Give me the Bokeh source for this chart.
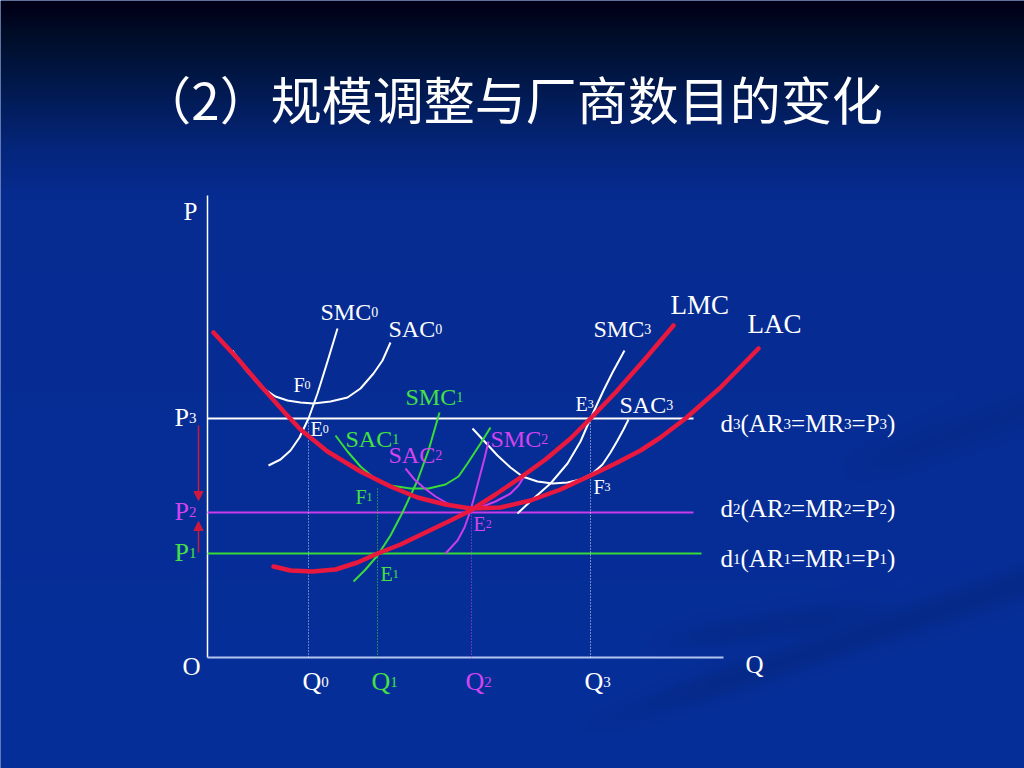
import numpy as np
from bokeh.plotting import figure
from bokeh.models import Range1d, Arrow, NormalHead
from bokeh.core.properties import value
from bokeh.embed import file_html
from bokeh.resources import INLINE

# ---------------- data (Q = quantity, P = price) ----------------
TITLE = "（2）规模调整与厂商数目的变化"

LAC_Q = [0.6, 3.0, 5.3, 7.8, 9.3, 12.0, 15.3, 18.3, 21.0, 23.8, 26.3, 29.3, 32.3, 35.3, 38.3, 40.8, 43.3, 45.3, 47.8, 51.3, 55.1]
LAC_P = [32.5, 29.9, 27.2, 24.4, 22.8, 20.6, 18.6, 17.1, 16.0, 15.3, 14.9, 15.0, 15.7, 16.8, 18.2, 19.4, 20.7, 22.0, 23.9, 27.0, 30.9]

LMC_Q = [6.6, 8.3, 10.5, 12.8, 15.0, 17.0, 19.3, 21.8, 24.3, 26.3, 28.8, 31.3, 33.8, 36.3, 38.3, 40.8, 43.8, 46.6]
LMC_P = [9.1, 8.7, 8.6, 8.8, 9.5, 10.4, 11.3, 12.5, 13.7, 14.7, 16.3, 18.0, 19.8, 21.9, 23.9, 26.5, 29.9, 33.2]

SAC0_Q = [2.5, 3.8, 5.3, 6.8, 8.0, 9.3, 10.6, 12.3, 14.0, 15.3, 16.6, 17.5, 18.3]
SAC0_P = [30.7, 28.8, 27.1, 26.1, 25.7, 25.5, 25.4, 25.6, 26.0, 26.9, 28.4, 29.7, 31.5]
SMC0_Q = [6.1, 7.3, 8.3, 9.2, 10.1, 11.0, 12.0, 13.0]
SMC0_P = [19.2, 19.8, 20.7, 22.0, 23.9, 26.4, 29.6, 32.9]

SAC1_Q = [12.8, 14.0, 15.3, 16.6, 18.3, 20.3, 22.1, 23.8, 25.1, 26.0, 27.3, 28.3]
SAC1_P = [22.2, 20.6, 19.1, 18.0, 17.2, 16.9, 16.9, 17.3, 18.1, 19.4, 21.4, 23.0]
SMC1_Q = [14.6, 15.8, 17.0, 18.3, 19.5, 21.0, 22.1, 23.2]
SMC1_P = [7.6, 8.8, 10.2, 12.2, 14.5, 17.7, 20.7, 24.5]

SAC2_Q = [19.8, 20.7, 21.6, 22.8, 24.0, 25.1, 26.3, 27.5, 28.8, 30.3, 31.1, 31.6]
SAC2_P = [18.9, 17.8, 17.0, 16.1, 15.4, 15.0, 14.9, 15.1, 15.6, 16.4, 17.2, 18.0]
SMC2_Q = [23.8, 25.0, 25.7, 26.3, 26.8, 27.3, 27.7, 28.1]
SMC2_P = [10.4, 11.7, 13.0, 14.7, 16.5, 18.4, 19.9, 21.6]

SAC3_Q = [26.5, 27.8, 29.0, 30.3, 31.5, 33.0, 34.5, 36.0, 37.3, 38.5, 39.5, 40.3, 41.0, 41.6, 42.1]
SAC3_P = [22.9, 21.5, 20.2, 19.0, 18.1, 17.6, 17.4, 17.5, 17.8, 18.4, 19.3, 20.5, 21.7, 22.8, 23.8]
SMC3_Q = [31.0, 32.6, 34.3, 36.0, 37.3, 38.3, 39.6, 40.5, 41.7]
SMC3_P = [14.4, 15.9, 17.4, 19.4, 21.6, 23.9, 26.7, 28.5, 30.7]

# price levels P3, P2, P1 and where their demand lines end
PRICE_LEVELS = [23.9, 14.5, 10.4]
PRICE_LINE_END = [48.6, 48.6, 49.4]
# quantities Q0..Q3 and the height of their dotted guides
Q_LEVELS = [10.1, 17.0, 26.4, 38.3]
Q_GUIDE_TOP = [23.9, 17.0, 14.5, 23.9]
Q_LABELS = ["Q_0", "Q_1", "Q_2", "Q_3"]
AXIS_P_MAX = 46.2
AXIS_Q_MAX = 51.6
D_LABELS = ["d_3(AR_3=MR_3=P_3)", "d_2(AR_2=MR_2=P_2)", "d_1(AR_1=MR_1=P_1)"]
P_LABELS = ["P_3", "P_2", "P_1"]

# ---------------- styling ----------------
RED = "#e8183e"
ARROW_RED = "#d0183c"
GREEN = "#38dc38"
GREEN_T = "#44e044"
MAG = "#c83cec"
MAG_T = "#d244f0"
WHITE = "#ffffff"
AXIS_Q_COLOR = "#b4c4f0"
SERIF = "Liberation Serif"

W, H = 1024, 768
PXU = 10.0               # pixels per data unit
OX, OY = 207, 657        # page position of origin O
x_lo, x_hi = (0 - OX) / PXU, (W - OX) / PXU
y_lo, y_hi = (OY - H) / PXU, (OY - 0) / PXU
TEXT_LIFT = 0.9          # baseline correction (data units)

p = figure(width=W, height=H, x_range=Range1d(x_lo, x_hi), y_range=Range1d(y_lo, y_hi),
           output_backend="svg", toolbar_location=None, min_border=0,
           x_axis_location=None, y_axis_location=None, outline_line_color=None,
           background_fill_color="#072c94", border_fill_color="#072c94")
p.xgrid.grid_line_color = None
p.ygrid.grid_line_color = None

# ---------------- background gradient ----------------
H2, W2 = H // 2, W // 2
yy, xx = np.mgrid[0:H2, 0:W2]
page_y = yy * 2 + 1.0
page_x = xx * 2 + 1.0
sy = [0, 15, 30, 55, 100, 150, 200, 768]
cr = [0, 0, 0, 0, 2, 5, 7, 6]
cg = [0, 4, 12, 18, 28, 38, 44, 47]
cb = [22, 28, 38, 54, 88, 125, 146, 154]
R = np.interp(page_y, sy, cr)
G = np.interp(page_y, sy, cg)
B = np.interp(page_y, sy, cb)
# faint swooshes lower right
cA = 735 - 0.33 * (page_x - 560)
fA = 0.10 * np.exp(-((page_y - cA) / 16) ** 2) * np.clip((page_x - 560) / 150, 0, 1)
cB = 640 - 0.16 * (page_x - 680)
fB = 0.08 * np.exp(-((page_y - cB) / 14) ** 2) * np.clip((page_x - 640) / 80, 0, 1) * np.clip((900 - page_x) / 80, 0, 1)
cC = 470 - 0.35 * (page_x - 850)
fC = 0.06 * np.exp(-((page_y - cC) / 18) ** 2) * np.clip((page_x - 830) / 80, 0, 1)
fac = 1 - fA - fB - fC
rgba = np.zeros((H2, W2, 4), dtype=np.uint8)
rgba[..., 0] = np.clip(R * fac, 0, 255)
rgba[..., 1] = np.clip(G * fac, 0, 255)
rgba[..., 2] = np.clip(B * fac, 0, 255)
rgba[..., 3] = 255
img = rgba.view(np.uint32).reshape(H2, W2)[::-1].copy()
p.image_rgba(image=[img], x=x_lo, y=y_lo, dw=x_hi - x_lo, dh=y_hi - y_lo, level="image")

# ---------------- axes ----------------
p.line([0, 0], [0, AXIS_P_MAX], line_color=WHITE, line_width=1.5)
p.line([0, AXIS_Q_MAX], [0, 0], line_color=AXIS_Q_COLOR, line_width=2)

# ---------------- price lines ----------------
price_colors = [WHITE, MAG, GREEN]
for lvl, end, col in zip(PRICE_LEVELS, PRICE_LINE_END, price_colors):
    p.line([0, end], [lvl, lvl], line_color=col, line_width=2)

# ---------------- dotted guides ----------------
q_colors = ["#c8d4ff", GREEN, MAG, "#e0e8ff"]
for q, top, col in zip(Q_LEVELS, Q_GUIDE_TOP, q_colors):
    p.line([q, q], [0, top], line_color=col, line_width=1, line_dash="1 2")

# ---------------- short-run curves ----------------
p.line(SAC0_Q, SAC0_P, line_color=WHITE, line_width=2)
p.line(SMC0_Q, SMC0_P, line_color=WHITE, line_width=2)
p.line(SAC3_Q, SAC3_P, line_color=WHITE, line_width=2)
p.line(SMC3_Q, SMC3_P, line_color=WHITE, line_width=2)
p.line(SAC1_Q, SAC1_P, line_color=GREEN, line_width=2)
p.line(SMC1_Q, SMC1_P, line_color=GREEN, line_width=2)
p.line(SAC2_Q, SAC2_P, line_color=MAG, line_width=2)
p.line(SMC2_Q, SMC2_P, line_color=MAG, line_width=2)

# ---------------- long-run curves ----------------
p.line(LAC_Q, LAC_P, line_color=RED, line_width=4.5, line_join="round", line_cap="round")
p.line(LMC_Q, LMC_P, line_color=RED, line_width=4.5, line_join="round", line_cap="round")

# ---------------- arrows ----------------
ax_x = -0.9
p.add_layout(Arrow(end=NormalHead(size=9, fill_color=ARROW_RED, line_color=ARROW_RED),
                   x_start=ax_x, y_start=PRICE_LEVELS[0] - 0.7, x_end=ax_x, y_end=PRICE_LEVELS[1] + 1.2,
                   line_color=ARROW_RED, line_width=1.5))
p.add_layout(Arrow(end=NormalHead(size=9, fill_color=ARROW_RED, line_color=ARROW_RED),
                   x_start=ax_x, y_start=PRICE_LEVELS[2] + 0.1, x_end=ax_x, y_end=PRICE_LEVELS[1] - 0.9,
                   line_color=ARROW_RED, line_width=1.5))

# ---------------- text helpers ----------------
WID = {"S": .556, "M": .889, "C": .667, "A": .722, "L": .611, "E": .611, "F": .556, "P": .556,
       "Q": .722, "O": .722, "R": .667, "d": .5, "(": .333, ")": .333, "=": .564}


def parse(s):
    parts, i = [], 0
    while i < len(s):
        if s[i] == "_":
            parts.append((s[i + 1], True))
            i += 2
        else:
            parts.append((s[i], False))
            i += 1
    return parts


def label(x, y, s, color, size=24, sub=14):
    off = 0.0
    for ch, is_sub in parse(s):
        fs = sub if is_sub else size
        p.text(x=[x], y=[y + TEXT_LIFT], text=[ch], x_offset=off, text_color=color,
               text_font=value(SERIF), text_font_size=value(f"{fs}px"),
               text_align="left", text_baseline="alphabetic")
        off += WID.get(ch, 0.5) * fs


# title
p.text(x=[(511 - OX) / PXU], y=[(OY - 97) / PXU], text=[TITLE], text_color=WHITE,
       text_font=value("Noto Sans CJK SC"), text_font_size=value("51px"),
       text_align="center", text_baseline="middle")

# axis labels
label(-2.4, 43.7, "P", WHITE, 25)
label(-2.5, -1.8, "O", WHITE, 25)
label(53.8, -1.6, "Q", WHITE, 25)
q_txt_colors = [WHITE, GREEN_T, MAG_T, WHITE]
for q, s, col in zip(Q_LEVELS, Q_LABELS, q_txt_colors):
    label(q - 0.6, -3.3, s, col, 26, 15)
p_txt_colors = [WHITE, MAG_T, GREEN_T]
for lvl, s, col in zip(PRICE_LEVELS, P_LABELS, p_txt_colors):
    label(-3.3, lvl - 0.8, s, col, 26, 15)

# curve labels
label(11.3, 33.7, "SMC_0", WHITE)
label(18.1, 32.0, "SAC_0", WHITE)
label(8.6, 26.4, "F_0", WHITE, 20, 12)
label(10.3, 22.0, "E_0", WHITE, 20, 12)
label(19.8, 25.2, "SMC_1", GREEN_T)
label(13.8, 21.0, "SAC_1", GREEN_T)
label(18.1, 19.4, "SAC_2", MAG_T)
label(28.3, 21.0, "SMC_2", MAG_T)
label(14.8, 15.2, "F_1", GREEN_T, 20, 12)
label(26.6, 12.5, "E_2", MAG_T, 20, 12)
label(17.3, 7.5, "E_1", GREEN_T, 20, 12)
label(36.8, 24.5, "E_3", WHITE, 20, 12)
label(41.2, 24.4, "SAC_3", WHITE)
label(38.6, 32.0, "SMC_3", WHITE)
label(38.6, 16.2, "F_3", WHITE, 20, 12)
label(46.3, 34.4, "LMC", WHITE, 27)
label(54.0, 32.5, "LAC", WHITE, 27)

for lvl, s in zip([22.5, 14.0, 9.0], D_LABELS):
    label(51.3, lvl, s, WHITE, 25, 15)

open("out.html", "w").write(file_html(p, INLINE))
